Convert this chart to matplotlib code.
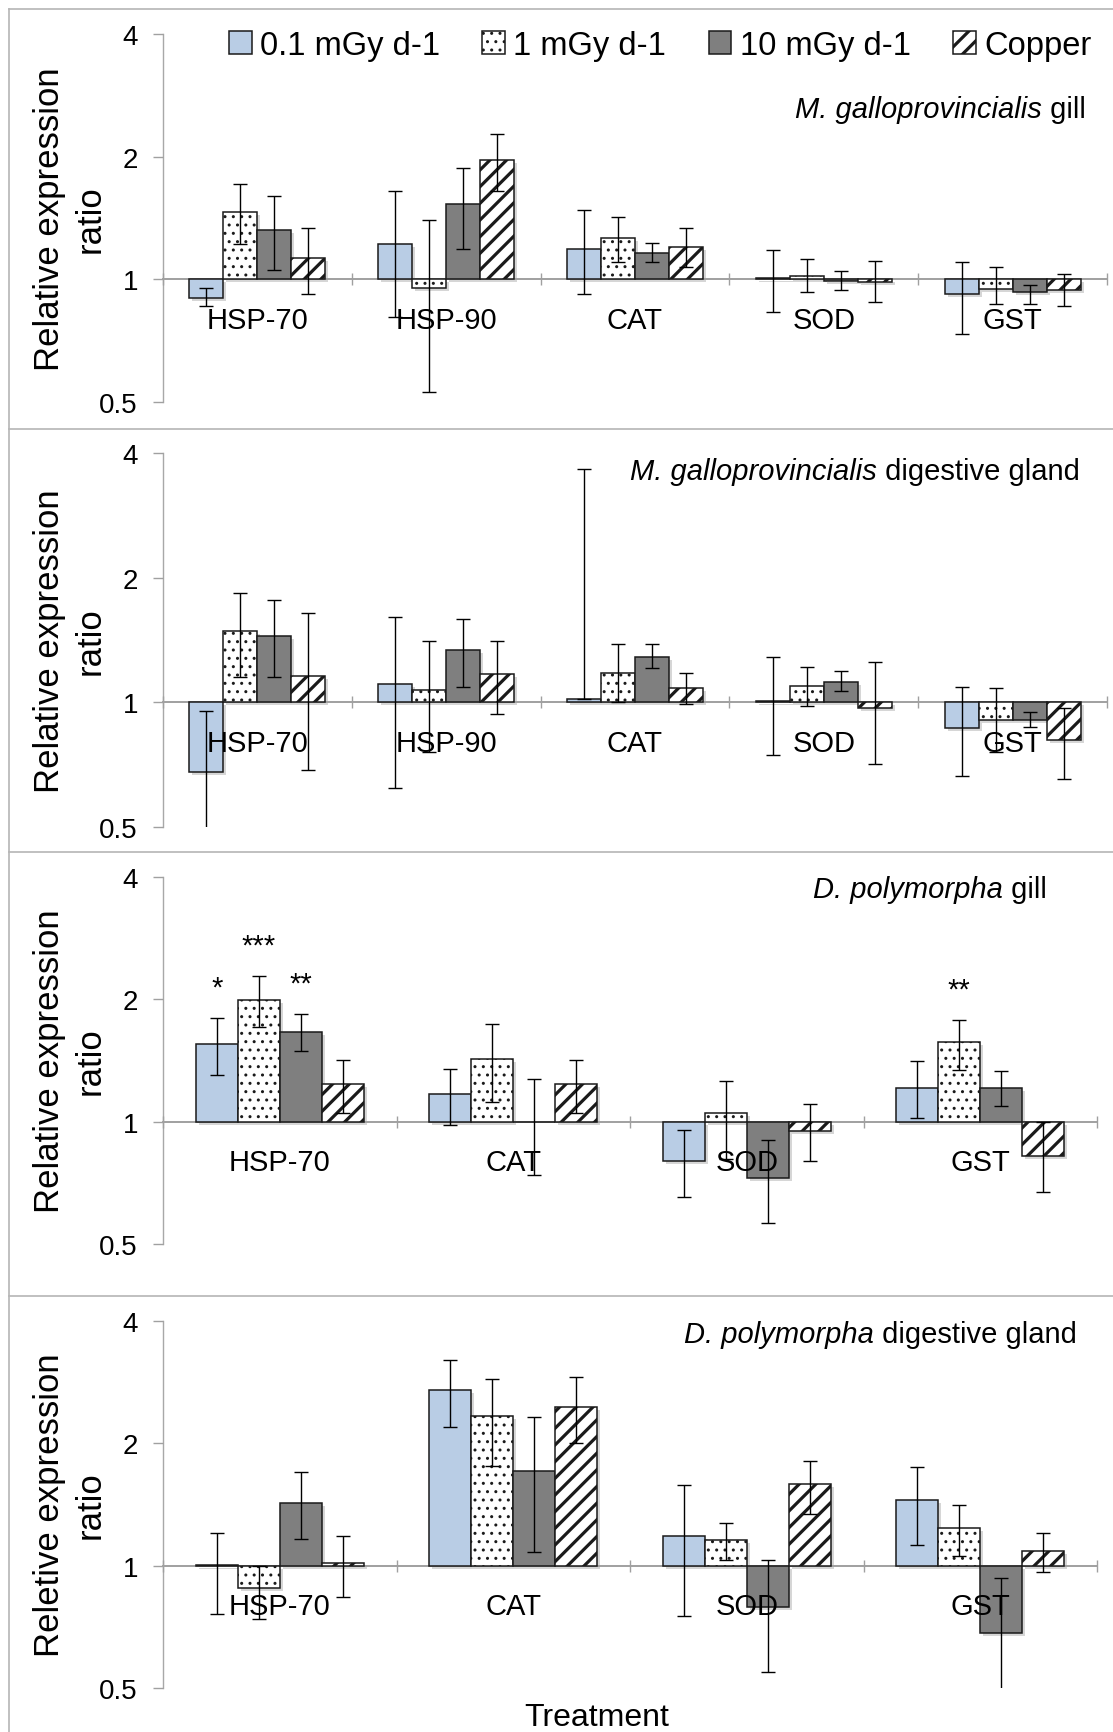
import matplotlib
matplotlib.use('Agg')
import matplotlib.pyplot as plt
import numpy as np
from matplotlib.lines import Line2D
from matplotlib import transforms
from matplotlib.ticker import NullLocator

plt.rcParams['font.family'] = ['Liberation Sans', 'DejaVu Sans']
plt.rcParams['hatch.linewidth'] = 2.3

# ---------------- data ----------------
series_labels = ['0.1 mGy d-1', '1 mGy d-1', '10 mGy d-1', 'Copper']
mg_genes = ['HSP-70', 'HSP-90', 'CAT', 'SOD', 'GST']
dp_genes = ['HSP-70', 'CAT', 'SOD', 'GST']

# M. galloprovincialis gill (rows = series: 0.1, 1, 10 mGy/d, Copper)
mg_gill_val = [[0.90, 1.22, 1.19, 1.005, 0.918],
               [1.46, 0.954, 1.26, 1.02, 0.949],
               [1.32, 1.53, 1.16, 0.99, 0.93],
               [1.13, 1.96, 1.20, 0.987, 0.94]]
mg_gill_hi = [[0.954, 1.65, 1.48, 1.18, 1.10],
              [1.71, 1.40, 1.42, 1.12, 1.07],
              [1.60, 1.875, 1.23, 1.05, 0.97],
              [1.34, 2.27, 1.34, 1.11, 1.03]]
mg_gill_lo = [[0.858, 0.81, 0.919, 0.83, 0.736],
              [1.22, 0.53, 1.10, 0.93, 0.87],
              [1.054, 1.19, 1.10, 0.94, 0.87],
              [0.919, 1.65, 1.07, 0.88, 0.86]]

# M. galloprovincialis digestive gland
mg_dg_val = [[0.68, 1.11, 1.02, 1.01, 0.868],
             [1.49, 1.07, 1.18, 1.095, 0.906],
             [1.445, 1.34, 1.29, 1.12, 0.906],
             [1.16, 1.17, 1.085, 0.97, 0.812]]
mg_dg_hi = [[0.953, 1.61, 3.66, 1.285, 1.087],
            [1.84, 1.41, 1.38, 1.22, 1.08],
            [1.77, 1.585, 1.38, 1.19, 0.95],
            [1.64, 1.41, 1.18, 1.25, 0.97]]
mg_dg_lo = [[0.49, 0.62, 1.02, 0.747, 0.665],
            [1.15, 0.757, 1.00, 0.978, 0.757],
            [1.15, 1.09, 1.21, 1.067, 0.87],
            [0.687, 0.935, 0.99, 0.71, 0.652]]

# D. polymorpha gill
dp_gill_val = [[1.55, 1.17, 0.80, 1.21],
               [1.99, 1.43, 1.05, 1.57],
               [1.66, 1.00, 0.728, 1.21],
               [1.24, 1.24, 0.947, 0.824]]
dp_gill_hi = [[1.80, 1.35, 0.954, 1.414],
              [2.28, 1.74, 1.26, 1.78],
              [1.84, 1.27, 0.90, 1.33],
              [1.42, 1.42, 1.105, 1.00]]
dp_gill_lo = [[1.30, 0.98, 0.652, 1.02],
              [1.71, 1.12, 0.81, 1.34],
              [1.49, 0.739, 0.562, 1.095],
              [1.05, 1.05, 0.80, 0.673]]
# significance marks: (gene index, series index, text)
dp_gill_stars = [(0, 0, '*'), (0, 1, '***'), (0, 2, '**'), (3, 1, '**')]

# D. polymorpha digestive gland
dp_dg_val = [[1.005, 2.70, 1.18, 1.45],
             [0.88, 2.33, 1.156, 1.24],
             [1.43, 1.71, 0.792, 0.682],
             [1.013, 2.46, 1.59, 1.086]]
dp_dg_hi = [[1.205, 3.20, 1.58, 1.75],
            [1.0, 2.88, 1.27, 1.414],
            [1.70, 2.32, 1.03, 0.933],
            [1.18, 2.91, 1.81, 1.205]]
dp_dg_lo = [[0.761, 2.20, 0.754, 1.126],
            [0.738, 1.76, 1.03, 1.054],
            [1.16, 1.08, 0.547, 0.49],
            [0.836, 2.0, 1.34, 0.965]]

y_ticks = [0.5, 1, 2, 4]
y_ticklabels = ['0.5', '1', '2', '4']

# ---------------- layout ----------------
W, H = 1113, 1733
fig = plt.figure(figsize=(W / 100, H / 100), dpi=100)
fig.patch.set_facecolor('white')

panels = [
    dict(genes=mg_genes, val=mg_gill_val, hi=mg_gill_hi, lo=mg_gill_lo, stars=[],
         it='M. galloprovincialis', rest=' gill', tx=1086, ty=110,
         ylabel='Relative expression\nratio', box=(163, 1107, 35, 403)),
    dict(genes=mg_genes, val=mg_dg_val, hi=mg_dg_hi, lo=mg_dg_lo, stars=[],
         it='M. galloprovincialis', rest=' digestive gland', tx=1080, ty=472,
         ylabel='Relative expression\nratio', box=(163, 1107, 454, 828)),
    dict(genes=dp_genes, val=dp_gill_val, hi=dp_gill_hi, lo=dp_gill_lo, stars=dp_gill_stars,
         it='D. polymorpha', rest=' gill', tx=1047, ty=890,
         ylabel='Relative expression\nratio', box=(163, 1097, 878, 1245)),
    dict(genes=dp_genes, val=dp_dg_val, hi=dp_dg_hi, lo=dp_dg_lo, stars=[],
         it='D. polymorpha', rest=' digestive gland', tx=1077, ty=1335,
         ylabel='Reletive expression\nratio', box=(163, 1097, 1322, 1689)),
]

facecolors = ['#b9cde5', 'white', '#7f7f7f', 'white']
hatches = [None, '..', None, '//']
hatch_lws = [1.0, 1.0, 1.0, 2.3]
edge = '#1a1a1a'
axis_gray = '#a0a0a0'
bar_w = 0.18

legend_handles = None
for pi, P in enumerate(panels):
    l, r, t, b = P['box']
    ax = fig.add_axes([l / W, 1 - b / H, (r - l) / W, (b - t) / H])
    ax.patch.set_alpha(0)
    ax.set_axisbelow(False)
    n = len(P['genes'])
    handles = []
    for j in range(4):
        x = np.arange(n) + 0.5 + (j - 1.5) * bar_w
        v = np.array(P['val'][j], dtype=float)
        hi = np.array(P['hi'][j], dtype=float)
        lo = np.array(P['lo'][j], dtype=float)
        # soft drop shadow
        sh = ax.bar(x, v - 1, bottom=1, width=bar_w, color='black', alpha=0.16,
                    linewidth=0, zorder=1.5)
        off = transforms.ScaledTranslation(3 / 100, -3 / 100, fig.dpi_scale_trans)
        for p in sh:
            p.set_transform(ax.transData + off)
        bc = ax.bar(x, v - 1, bottom=1, width=bar_w, facecolor=facecolors[j],
                    edgecolor=edge, linewidth=1.1, hatch=hatches[j], zorder=2,
                    label=series_labels[j])
        for p in bc:
            if hasattr(p, 'set_hatch_linewidth'):
                p.set_hatch_linewidth(hatch_lws[j])
        handles.append(bc)
        ax.errorbar(x, v, yerr=[np.clip(v - lo, 0, None), np.clip(hi - v, 0, None)],
                    fmt='none', ecolor='black', elinewidth=1.0, capsize=5,
                    capthick=1.0, zorder=3)
    if legend_handles is None:
        legend_handles = handles

    for (gi, sj, s) in P['stars']:
        xs = gi + 0.5 + (sj - 1.5) * bar_w
        ax.annotate(s, xy=(xs, P['hi'][sj][gi]), xytext=(0, 16),
                    textcoords='offset points', ha='center', va='baseline',
                    fontsize=21)

    ax.set_yscale('log', base=2)
    ax.set_ylim(0.5, 4)
    ax.set_xlim(0, n)
    ax.set_yticks(y_ticks)
    ax.set_yticklabels(y_ticklabels)
    ax.yaxis.set_minor_locator(NullLocator())
    for s in ['top', 'right']:
        ax.spines[s].set_visible(False)
    ax.spines['bottom'].set_position(('data', 1))
    ax.spines['bottom'].set_color(axis_gray)
    ax.spines['bottom'].set_linewidth(1.4)
    ax.spines['bottom'].set_zorder(1.8)
    ax.spines['left'].set_color('#a8a8a8')
    ax.spines['left'].set_linewidth(1.0)
    ax.set_xticks(np.arange(n + 1))
    ax.set_xticklabels([''] * (n + 1))
    ax.set_xticks(np.arange(n) + 0.5, minor=True)
    ax.set_xticklabels(P['genes'], minor=True)
    ax.tick_params(axis='x', which='major', direction='inout', length=8,
                   color=axis_gray, width=1.0, labelbottom=False)
    ax.tick_params(axis='x', which='minor', length=0, pad=19, labelsize=21)
    ax.tick_params(axis='y', which='major', direction='out', length=7,
                   color=axis_gray, width=1.0, pad=11, labelsize=20)
    ax.set_ylabel(P['ylabel'], fontsize=25, linespacing=1.3)
    ax.yaxis.label.set_verticalalignment('center')
    ax.yaxis.set_label_coords((70 - l) / (r - l), 0.5)

    t_rest = fig.text(P['tx'] / W, 1 - P['ty'] / H, P['rest'], ha='right',
                      va='center', fontsize=21)
    ax.annotate(P['it'], xy=(0, 0.5), xycoords=t_rest, ha='right', va='center',
                fontsize=21, style='italic', annotation_clip=False)

leg = fig.legend(legend_handles, series_labels, loc='center',
                 bbox_to_anchor=(660 / W, 1 - 46 / H), ncol=4, frameon=False,
                 fontsize=23.5, handlelength=0.7, handleheight=0.7, handletextpad=0.25,
                 columnspacing=1.3, borderpad=0, borderaxespad=0)
leg_patches = getattr(leg, 'legend_handles', None) or getattr(leg, 'legendHandles', [])
for h, lw in zip(leg_patches, hatch_lws):
    if hasattr(h, 'set_hatch_linewidth'):
        h.set_hatch_linewidth(lw)

fig.text(597 / W, 1 - 1726 / H, 'Treatment', ha='center', va='baseline', fontsize=23)

# panel frame lines
fc = '#b5b5b5'
fig.add_artist(Line2D([8.5 / W, 8.5 / W], [0, 1 - 9.5 / H], transform=fig.transFigure,
                      color=fc, lw=1.2))
for yy in [9.5, 430, 853, 1297]:
    fig.add_artist(Line2D([8.5 / W, 1], [1 - yy / H, 1 - yy / H],
                          transform=fig.transFigure, color=fc, lw=1.2))

fig.savefig('out.png', dpi=100, facecolor='white')
